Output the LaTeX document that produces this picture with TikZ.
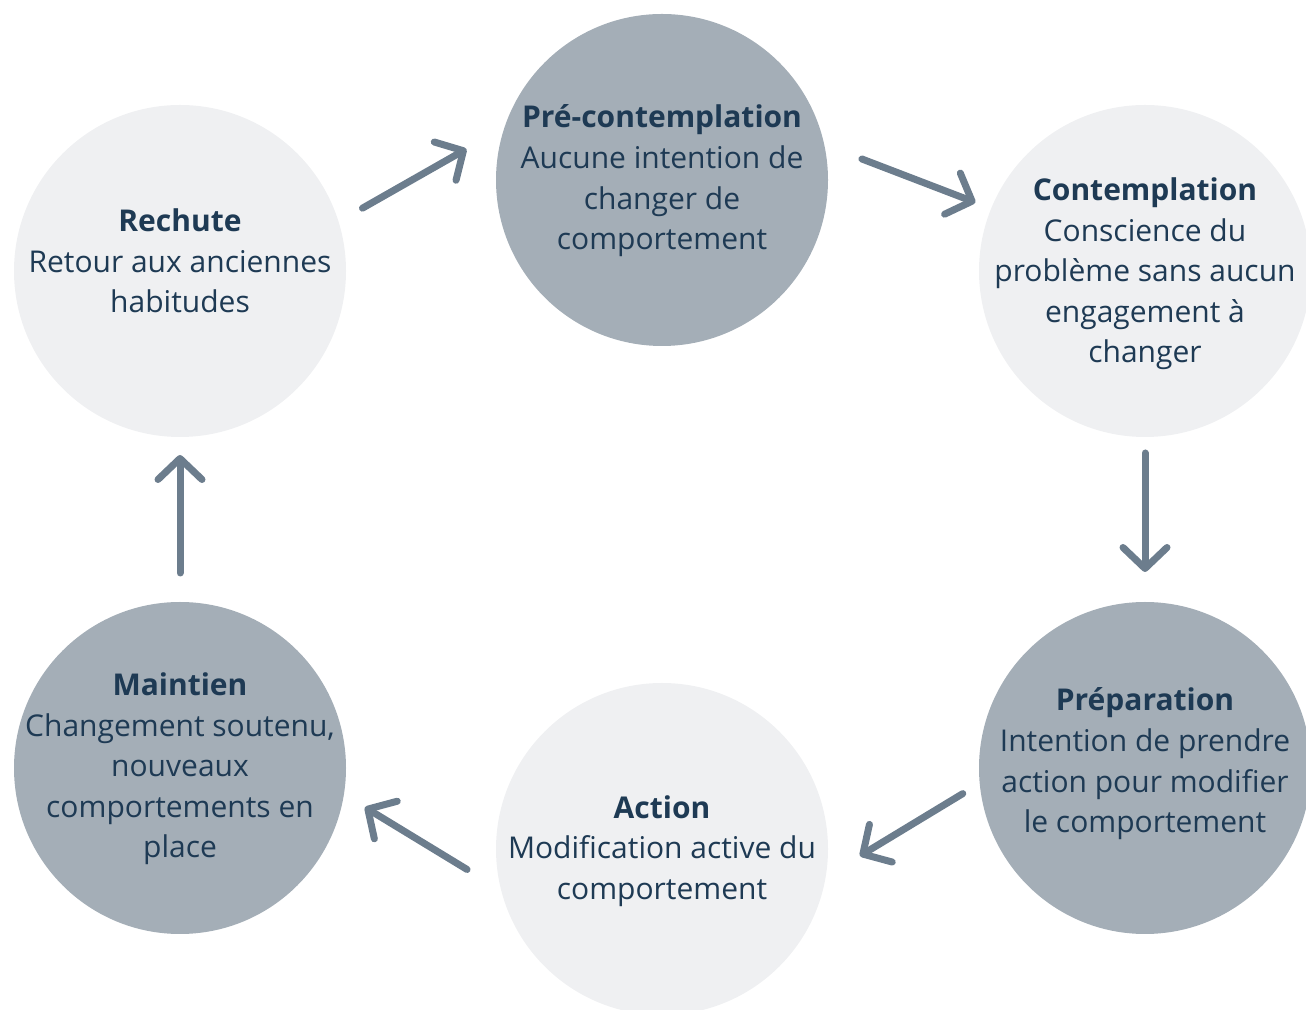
\documentclass[tikz,border=0pt]{standalone}
\usepackage{fontspec}
\setmainfont{Open Sans}
\usetikzlibrary{arrows.meta,calc}
\definecolor{stInk}{HTML}{1E3A54}
\definecolor{stDark}{HTML}{A4AEB7}
\definecolor{stLight}{HTML}{EFF0F2}
\definecolor{stArrow}{HTML}{6C7D8D}
\newcommand{\STType}{\fontsize{30}{40.6}\selectfont}
\newcommand{\STStage}[2]{{\bfseries #1}\\#2}
\tikzset{st/base/.style={x=1pt,y=1pt,
  every node/.style={font=\STType,text=stInk,align=center,inner sep=0pt}},
  st/light/.style={circle,fill=stLight,minimum size=332pt},
  st/dark/.style={circle,fill=stDark,minimum size=332pt},
  st/flow/.style={draw=stArrow,line width=7pt,line cap=round,
    -{Straight Barb[length=21pt,width=44pt,line cap=round,line join=round]}}}
\begin{document}
\begin{tikzpicture}[st/base]
  \useasboundingbox (0,0) rectangle (1306,1009);
  % the six stages, clockwise from the top
  \node[st/dark]  (pre)   at (662,829)  {};
  \node[st/light] (cont)  at (1145,738) {};
  \node[st/dark]  (prep)  at (1145,241) {};
  \node[st/light] (act)   at (662,160)  {};
  \node[st/dark]  (maint) at (180,241)  {};
  \node[st/light] (rech)  at (180,738)  {};
  \node at ($(pre)+(0,-1)$)  {\STStage{Pré-contemplation}{Aucune intention de\\changer de\\comportement}};
  \node at ($(cont)+(0,-3)$) {\STStage{Contemplation}{Conscience du\\problème sans aucun\\engagement à\\changer}};
  \node at ($(prep)+(0,4)$)  {\STStage{Préparation}{Intention de prendre\\action pour modifier\\le comportement}};
  \node at ($(act)+(0,-2)$)  {\STStage{Action}{Modification active du\\comportement}};
  \node at ($(maint)+(0,-1)$) {\STStage{Maintien}{Changement soutenu,\\nouveaux\\comportements en\\place}};
  \node at ($(rech)+(0,10)$) {\STStage{Rechute}{Retour aux anciennes\\habitudes}};
  % cycle arrows between neighbouring stages
  \draw[st/flow] ($(rech)+(19:193)$)   -- ($(pre)+(171:198)$);
  \draw[st/flow] ($(pre)+(6:201)$)     -- ($(cont)+(158:183)$);
  \draw[st/flow] ($(cont)+(-90:182)$)  -- ($(prep)+(90:196)$);
  \draw[st/flow] ($(prep)+(188:184)$)  -- ($(act)+(-2:198)$);
  \draw[st/flow] ($(act)+(186:196)$)   -- ($(maint)+(-12:189)$);
  \draw[st/flow] ($(maint)+(90:195)$)  -- ($(rech)+(-90:184)$);
\end{tikzpicture}
\end{document}
